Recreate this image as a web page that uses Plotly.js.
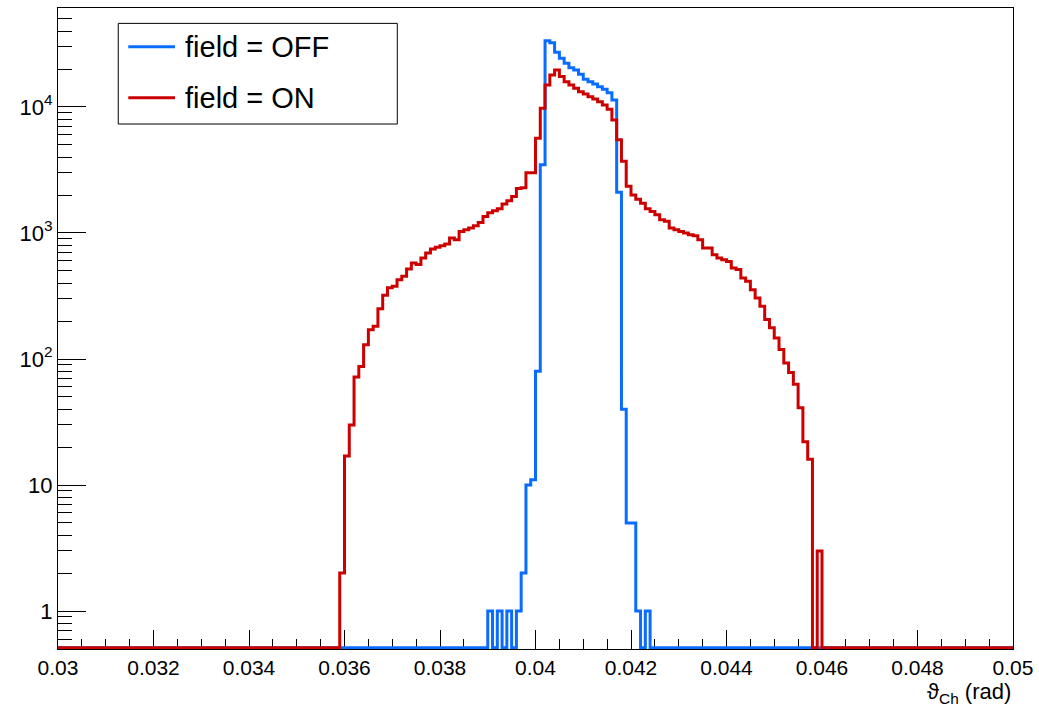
<!DOCTYPE html>
<html>
<head>
<meta charset="utf-8">
<script src="https://cdn.plot.ly/plotly-3.0.1.min.js"></script>
<style>html,body{margin:0;padding:0;background:#fff;}#chart{width:1039px;height:708px;}</style>
</head>
<body>
<div id="chart"></div>
<script>
// Histogram definition
const xMin = 0.03, xMax = 0.05, nBins = 200;

// field = OFF : counts per bin, starting at bin index offFirstBin
const offFirstBin = 90;
const offCounts = [1, 0, 1, 0, 1, 0, 1, 2, 10, 11,
  80, 3470, 33500, 32300, 27100, 24300, 22200, 20500, 19640, 18150,
  16570, 15850, 15200, 14480, 13800, 12980, 11350, 2100, 40, 5,
  5, 1, 0, 1];

// field = ON : counts per bin, starting at bin index onFirstBin
const onFirstBin = 59;
const onCounts = [2, 17, 30, 72, 87, 130, 171, 182, 250, 320,
  367, 377, 426, 453, 518, 578, 561, 633, 693, 746,
  769, 792, 817, 912, 885, 1029, 1061, 1094, 1141, 1213,
  1353, 1450, 1500, 1560, 1700, 1800, 1950, 2250, 2280, 3000,
  3000, 5650, 9770, 14930, 17920, 19640, 17400, 15850, 14930, 14060,
  13210, 12680, 12070, 11570, 11010, 10370, 9600, 7890, 5500, 3700,
  2350, 2000, 1850, 1720, 1560, 1480, 1396, 1274, 1236, 1094,
  1061, 1029, 1000, 969, 951, 885, 759, 759, 673, 633,
  614, 595, 527, 512, 440, 413, 355, 305, 262, 206,
  177, 147, 119, 93, 78, 63, 41, 22, 16, 0,
  3];

// Axis tick labels
const xTickVals = [0.03, 0.032, 0.034, 0.036, 0.038, 0.04, 0.042, 0.044, 0.046, 0.048, 0.05];
const xTickText = ['0.03', '0.032', '0.034', '0.036', '0.038', '0.04', '0.042', '0.044', '0.046', '0.048', '0.05'];
const yTickVals = [1, 10, 100, 1000, 10000];
const yTickText = ['1', '10', '10<sup>2</sup>', '10<sup>3</sup>', '10<sup>4</sup>'];

const seriesNames = ['field = OFF', 'field = ON'];
const seriesColors = ['#0a6cff', '#cc0000'];

// ---- build step outlines ----
const yMinVal = 0.5, yMaxLog = 4.785;
const floorVal = 0.512; // empty bins drawn on the bottom frame, like ROOT
const binW = (xMax - xMin) / nBins;

function fullCounts(first, counts) {
  const c = new Array(nBins).fill(0);
  counts.forEach((v, k) => { c[first + k] = v; });
  return c;
}
function stepTrace(counts, name, color) {
  const x = [], y = [];
  for (let i = 0; i < nBins; i++) {
    x.push(xMin + i * binW);
    y.push(counts[i] > 0 ? counts[i] : floorVal);
  }
  x.push(xMax);
  y.push(counts[nBins - 1] > 0 ? counts[nBins - 1] : floorVal);
  return {
    type: 'scatter', mode: 'lines', x: x, y: y, name: name,
    line: {shape: 'hv', color: color, width: 3},
    showlegend: false, hoverinfo: 'skip'
  };
}

const traces = [
  stepTrace(fullCounts(offFirstBin, offCounts), seriesNames[0], seriesColors[0]),
  stepTrace(fullCounts(onFirstBin, onCounts), seriesNames[1], seriesColors[1])
];

// minor tick positions for log axis (2..9 per decade)
const yMinor = [];
for (let e = -1; e <= 4; e++) {
  for (let m = 2; m <= 9; m++) {
    const v = m * Math.pow(10, e);
    if (v > yMinVal && Math.log10(v) < yMaxLog) yMinor.push(v);
  }
}

const font = 'Liberation Sans, Arial, Helvetica, sans-serif';

// legend (drawn like ROOT's TLegend)
const lg = {x0: 0.0631, x1: 0.3553, y0: 0.819, y1: 0.976, lx0: 0.0736, lx1: 0.1225, tx: 0.1306, rows: [0.9396, 0.860]};
const shapes = [
  {type: 'rect', xref: 'paper', yref: 'paper', x0: lg.x0, x1: lg.x1, y0: lg.y0, y1: lg.y1,
   line: {color: '#000', width: 1}, fillcolor: '#fff', layer: 'above'}
];
const annotations = [];
seriesNames.forEach((n, k) => {
  shapes.push({type: 'line', xref: 'paper', yref: 'paper', x0: lg.lx0, x1: lg.lx1, y0: lg.rows[k], y1: lg.rows[k],
    line: {color: seriesColors[k], width: 3}, layer: 'above'});
  annotations.push({xref: 'paper', yref: 'paper', x: lg.tx, y: lg.rows[k], xanchor: 'left', yanchor: 'middle',
    text: n, showarrow: false, font: {family: font, size: 29, color: '#000'}});
});
annotations.push({xref: 'paper', yref: 'paper', x: 1, y: -0.069, xanchor: 'right', yanchor: 'middle',
  text: 'ϑ<sub>Ch</sub> (rad)', showarrow: false, font: {family: font, size: 22, color: '#000'}});

const layout = {
  width: 1039, height: 708,
  margin: {l: 58, r: 26, t: 8, b: 59, pad: 0},
  paper_bgcolor: '#fff', plot_bgcolor: '#fff',
  font: {family: font, color: '#000'},
  showlegend: false,
  xaxis: {
    range: [xMin, xMax], tickmode: 'array', tickvals: xTickVals, ticktext: xTickText,
    ticks: 'inside', ticklen: 19, tickwidth: 1, tickcolor: '#000',
    minor: {tickmode: 'linear', tick0: 0.03, dtick: 0.0005, ticks: 'inside', ticklen: 10, tickwidth: 1, tickcolor: '#000', showgrid: false},
    showline: true, mirror: true, linecolor: '#000', linewidth: 1,
    showgrid: false, zeroline: false, layer: 'below traces',
    tickfont: {family: font, size: 21, color: '#000'}
  },
  yaxis: {
    type: 'log', range: [Math.log10(yMinVal), yMaxLog],
    tickmode: 'array', tickvals: yTickVals, ticktext: yTickText,
    ticks: 'inside', ticklen: 28, tickwidth: 1, tickcolor: '#000',
    minor: {tickmode: 'array', tickvals: yMinor, ticks: 'inside', ticklen: 14, tickwidth: 1, tickcolor: '#000', showgrid: false},
    showline: true, mirror: true, linecolor: '#000', linewidth: 1,
    showgrid: false, zeroline: false, layer: 'below traces',
    tickfont: {family: font, size: 22, color: '#000'}
  },
  shapes: shapes,
  annotations: annotations
};

Plotly.newPlot('chart', traces, layout, {staticPlot: true, displayModeBar: false});
</script>
</body>
</html>
